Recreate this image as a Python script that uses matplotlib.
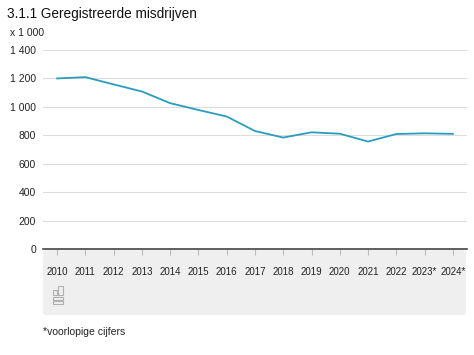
import matplotlib
matplotlib.use("Agg")
import matplotlib.pyplot as plt
from matplotlib.patches import FancyBboxPatch, Rectangle

plt.rcParams['font.family'] = ['Liberation Sans', 'DejaVu Sans']

# Data (x 1 000)
years = ["2010", "2011", "2012", "2013", "2014", "2015", "2016", "2017",
         "2018", "2019", "2020", "2021", "2022", "2023*", "2024*"]
misdrijven = [1200, 1209, 1158, 1108, 1026, 978, 932, 830,
              784, 821, 811, 756, 809, 814, 810]
y_ticks = [0, 200, 400, 600, 800, 1000, 1200, 1400]
y_labels = ["0", "200", "400", "600", "800", "1 000", "1 200", "1 400"]

W, H = 474, 355
fig = plt.figure(figsize=(W / 100, H / 100), dpi=100)

# gray box behind the x labels and logo
box = FancyBboxPatch((43 / W, 1 - 315 / H), 423 / W, 65 / H,
                     boxstyle="round,pad=0,rounding_size=0.008",
                     transform=fig.transFigure, facecolor="#efefef",
                     edgecolor="none", zorder=0)
fig.patches.append(box)

ax = fig.add_axes([43 / W, 1 - 249 / H, 424 / W, 199 / H])
ax.set_zorder(2)
ax.set_facecolor("none")
x = list(range(len(years)))
ax.plot(x, misdrijven, color="#2a9dbf", linewidth=1.3, zorder=3)

ax.set_xlim(-0.5, len(years) - 0.5)
ax.set_ylim(0, 1400)
ax.set_yticks(y_ticks)
ax.set_yticklabels(y_labels, fontsize=7.5, color="#222222")
ax.set_xticks(x)
ax.set_xticklabels(years, fontsize=7, color="#222222")
ax.grid(axis="y", color="#dddddd", linewidth=0.8)
ax.set_axisbelow(True)
for s in ["top", "right", "left"]:
    ax.spines[s].set_visible(False)
ax.spines["bottom"].set_color("#444444")
ax.spines["bottom"].set_linewidth(1.2)
ax.tick_params(axis="y", length=0, pad=5)
ax.tick_params(axis="x", length=4, color="#bbbbbb", pad=9)

# cbs logo (simple drawing)
logo_color = "#b0b0b0"
for (lx, ly, lw, lh) in [(53, 290, 4, 5), (58, 286, 5, 9),
                         (53, 296.5, 10, 3), (53, 300.5, 10, 3)]:
    fig.patches.append(Rectangle((lx / W, 1 - (ly + lh) / H), lw / W, lh / H,
                                 transform=fig.transFigure, facecolor="none",
                                 edgecolor=logo_color, linewidth=0.8))

fig.text(7 / W, 1 - 14 / H, "3.1.1 Geregistreerde misdrijven", fontsize=9.8,
         va="center", ha="left", color="#111111")
fig.text(10 / W, 1 - 33 / H, "x 1 000", fontsize=7.5, va="center", ha="left",
         color="#222222")
fig.text(43 / W, 1 - 332 / H, "*voorlopige cijfers", fontsize=7.5,
         va="center", ha="left", color="#222222")

fig.savefig("out.png", dpi=100)
